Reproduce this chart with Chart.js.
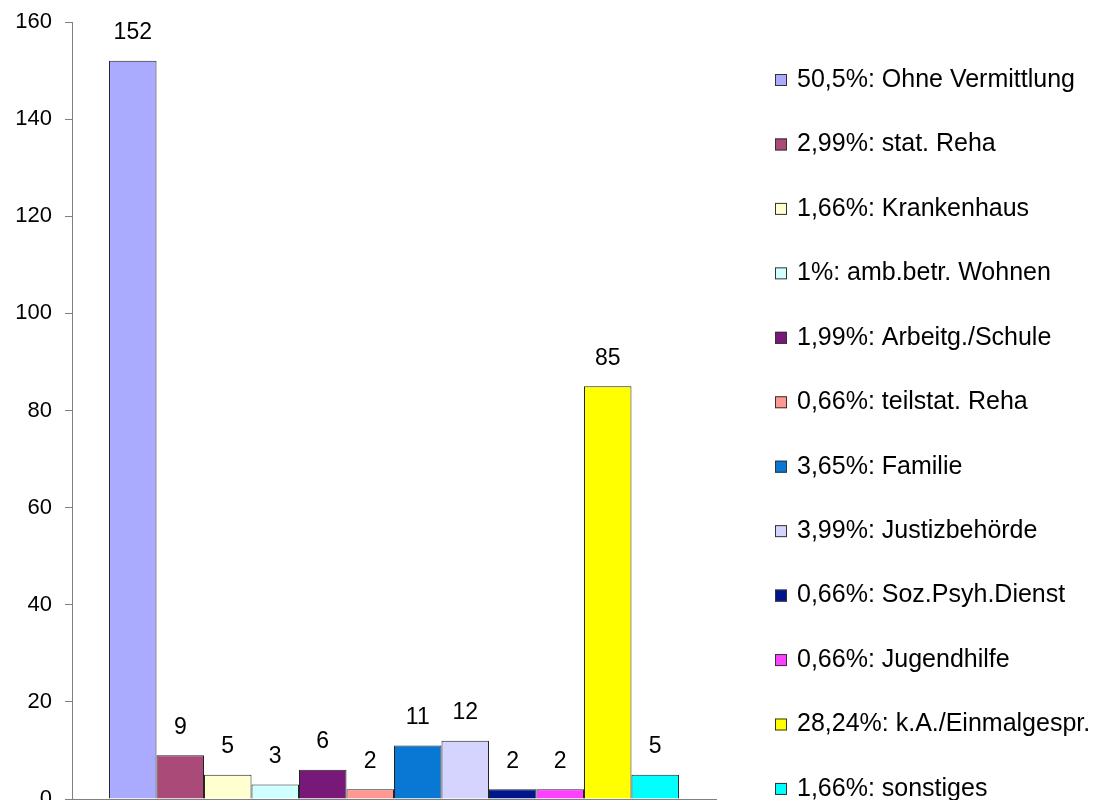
<!DOCTYPE html>
<html>
<head>
<meta charset="utf-8">
<script src="https://cdn.jsdelivr.net/npm/chart.js@4"></script>
<style>
  html, body { margin: 0; padding: 0; background: #fff; }
  #wrap { width: 1116px; height: 800px; }
</style>
</head>
<body>
<div id="wrap"><canvas id="chart" width="1116" height="800"></canvas></div>
<script>
// Data
const categories = ['Ohne Vermittlung', 'stat. Reha', 'Krankenhaus', 'amb.betr. Wohnen', 'Arbeitg./Schule',
  'teilstat. Reha', 'Familie', 'Justizbehörde', 'Soz.Psyh.Dienst', 'Jugendhilfe', 'k.A./Einmalgespr.', 'sonstiges'];
const shares = ['50,5%', '2,99%', '1,66%', '1%', '1,99%', '0,66%', '3,65%', '3,99%', '0,66%', '0,66%', '28,24%', '1,66%'];
const counts = [152, 9, 5, 3, 6, 2, 11, 12, 2, 2, 85, 5];
const yTicks = [0, 20, 40, 60, 80, 100, 120, 140, 160];

// Styles
const colors = ['#aaaaff', '#a94a78', '#ffffd0', '#d0ffff', '#781878', '#ff9890',
  '#0878d4', '#d4d4ff', '#00148c', '#ff40ff', '#ffff00', '#00ffff'];
const FONT = "'Liberation Sans', Arial, sans-serif";

// Numbers above each bar
const valueLabels = {
  id: 'valueLabels',
  afterDatasetsDraw(chart) {
    const ctx = chart.ctx;
    ctx.save();
    ctx.font = '23px ' + FONT;
    ctx.fillStyle = '#000';
    ctx.textAlign = 'center';
    ctx.textBaseline = 'middle';
    chart.data.datasets.forEach((ds, i) => {
      const bar = chart.getDatasetMeta(i).data[0];
      ctx.fillText(String(ds.data[0]), bar.x, bar.y - 28);
    });
    ctx.restore();
  }
};

// Legend on the right, one item per series, spaced like the original
const sideLegend = {
  id: 'sideLegend',
  afterDraw(chart) {
    const ctx = chart.ctx;
    const x0 = 775, y0 = 80, step = 64.45, box = 12;
    ctx.save();
    ctx.font = '25px ' + FONT;
    ctx.textAlign = 'left';
    ctx.textBaseline = 'middle';
    chart.data.datasets.forEach((ds, i) => {
      const y = y0 + i * step;
      ctx.fillStyle = ds.backgroundColor;
      ctx.fillRect(x0, y - box / 2, box, box);
      ctx.strokeStyle = '#333';
      ctx.lineWidth = 1;
      ctx.strokeRect(x0 + 0.5, y - box / 2 + 0.5, box - 1, box - 1);
      ctx.fillStyle = '#000';
      ctx.fillText(ds.label, x0 + 22, y);
    });
    ctx.restore();
  }
};

const datasets = categories.map((name, i) => ({
  label: shares[i] + ': ' + name,
  data: [counts[i]],
  backgroundColor: colors[i],
  borderColor: '#222',
  borderWidth: 1,
  categoryPercentage: 0.885,
  barPercentage: 1
}));

new Chart(document.getElementById('chart').getContext('2d'), {
  type: 'bar',
  data: { labels: [''], datasets },
  options: {
    responsive: false,
    animation: false,
    layout: { padding: { left: 0, right: 400, top: 22, bottom: 1 } },
    plugins: {
      legend: { display: false },
      tooltip: { enabled: false }
    },
    scales: {
      x: {
        grid: { display: false },
        ticks: { display: false },
        border: { display: true, color: '#808080' },
        afterFit: s => { s.height = 0; s.paddingLeft = 0; s.paddingRight = 0; }
      },
      y: {
        min: 0, max: 160,
        afterBuildTicks: s => { s.ticks = yTicks.map(v => ({ value: v })); },
        afterFit: s => { s.width = 72; s.paddingTop = 0; s.paddingBottom = 0; },
        grid: { drawOnChartArea: false, drawTicks: true, tickLength: 7, color: '#808080' },
        border: { display: true, color: '#808080' },
        ticks: { color: '#000', padding: 13, font: { family: FONT, size: 22 } }
      }
    }
  },
  plugins: [valueLabels, sideLegend]
});
</script>
</body>
</html>
